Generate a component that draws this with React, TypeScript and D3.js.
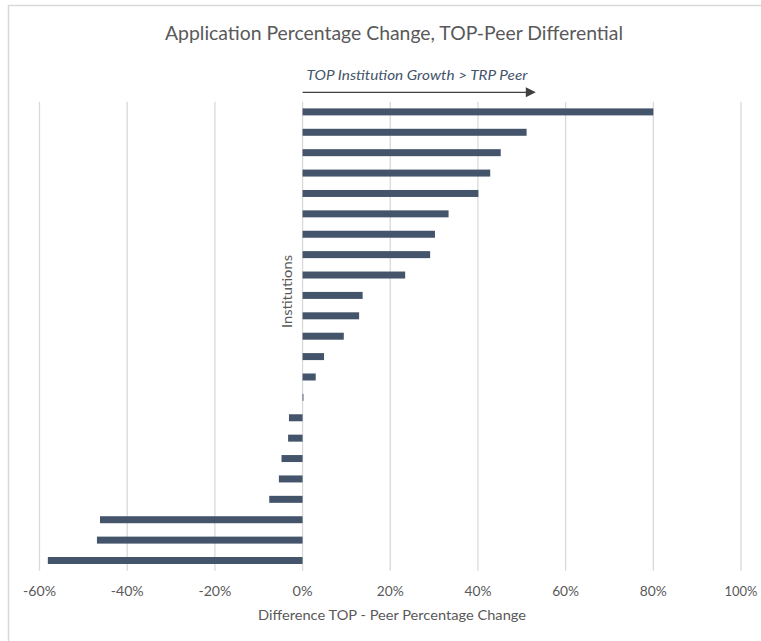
import React from "react";
import * as d3 from "d3";

const institutions: string[] = Array.from({ length: 23 }, (_, i) => `Institution ${i + 1}`);
const differences: number[] = [
  0.80, 0.511, 0.452, 0.428, 0.401, 0.333, 0.302, 0.291, 0.234, 0.137, 0.129,
  0.094, 0.049, 0.030, 0.002, -0.031, -0.033, -0.048, -0.054, -0.076, -0.462,
  -0.469, -0.581,
];
const xTicks: number[] = [-0.6, -0.4, -0.2, 0, 0.2, 0.4, 0.6, 0.8, 1.0];
const title = "Application Percentage Change, TOP-Peer Differential";
const xTitle = "Difference TOP - Peer Percentage Change";
const yTitle = "Institutions";
const annotation = "TOP Institution Growth > TRP Peer";

const W = 761;
const H = 641;
const FONT = "Lato, 'Open Sans', 'DejaVu Sans', sans-serif";

export default function App() {
  const x = d3.scaleLinear().domain([-0.6, 1.0]).range([39.5, 741]);
  const y = d3
    .scaleBand<string>()
    .domain(institutions)
    .range([101.7, 570.7])
    .paddingInner(0.657)
    .paddingOuter(0.3285);
  const fmt = (t: number) => d3.format(".0%")(t).replace("\u2212", "-");
  const x0 = x(0);
  const arrowEnd = x(0.532);

  return (
    <svg
      width={W}
      height={H}
      style={{ position: "absolute", left: 0, top: 0, background: "#fff" }}
      fontFamily={FONT}
    >
      <rect x={0} y={0} width={W} height={H} fill="#fff" />
      {/* chart border */}
      <rect x={8.5} y={5.5} width={W + 20} height={H + 20} fill="none" stroke="#d9d9d9" strokeWidth={1.5} />
      {/* title */}
      <text x={394} y={40} textAnchor="middle" fontSize={18.7} fill="#595959" textLength={458} lengthAdjust="spacingAndGlyphs">
        {title}
      </text>
      {/* gridlines */}
      {xTicks.map((t) => (
        <line key={t} x1={x(t)} x2={x(t)} y1={101.7} y2={570.7} stroke="#d9d9d9" strokeWidth={1.3} />
      ))}
      {/* bars */}
      {institutions.map((c, i) => {
        const v = differences[i];
        const a = x(Math.min(0, v));
        const b = x(Math.max(0, v));
        return (
          <rect key={c} x={a} y={y(c)} width={Math.max(b - a, 0.8)} height={y.bandwidth()} fill="#44546a" />
        );
      })}
      {/* tick labels */}
      {xTicks.map((t) => (
        <text key={"l" + t} x={x(t)} y={596} textAnchor="middle" fontSize={13.3} fill="#595959" textLength={t < 0 ? 33 : t === 0 ? 20 : t === 1 ? 33 : 27} lengthAdjust="spacingAndGlyphs">
          {fmt(t)}
        </text>
      ))}
      {/* x axis title */}
      <text x={392} y={620} textAnchor="middle" fontSize={13.3} fill="#595959" textLength={268} lengthAdjust="spacingAndGlyphs">
        {xTitle}
      </text>
      {/* y axis title */}
      <text
        transform={`translate(291.5, 291.5) rotate(-90)`}
        textAnchor="middle"
        fontSize={13.3}
        fill="#595959"
        textLength={73}
        lengthAdjust="spacingAndGlyphs"
      >
        {yTitle}
      </text>
      {/* annotation */}
      <text x={306.5} y={80} fontSize={13.3} fontStyle="italic" fill="#44546a" textLength={221} lengthAdjust="spacingAndGlyphs">
        {annotation}
      </text>
      <line x1={x0} x2={arrowEnd - 9} y1={92.3} y2={92.3} stroke="#404040" strokeWidth={1.3} />
      <path
        d={`M${arrowEnd},92.3 L${arrowEnd - 10},87.3 L${arrowEnd - 10},97.3 Z`}
        fill="#404040"
      />
    </svg>
  );
}
